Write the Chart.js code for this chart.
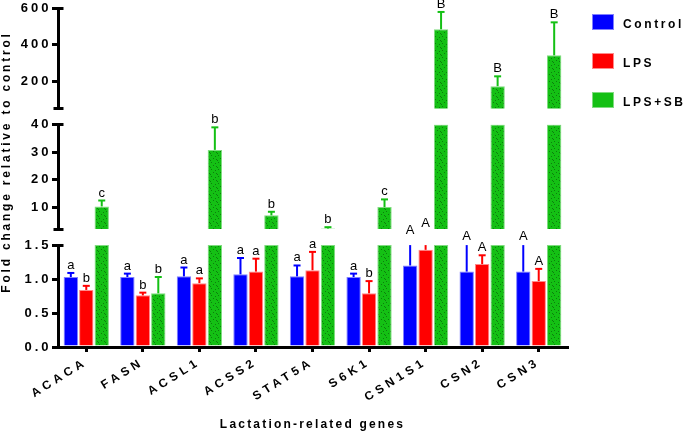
<!DOCTYPE html>
<html><head><meta charset="utf-8">
<script src="https://cdn.jsdelivr.net/npm/chart.js@4.4.1/dist/chart.umd.min.js"></script>
<style>
html,body{margin:0;padding:0;background:#fff;}
#wrap{position:relative;width:685px;height:433px;overflow:hidden;}
#c{position:absolute;left:0;top:0;}
.lg{position:absolute;font:bold 12px "Liberation Sans",Arial,sans-serif;letter-spacing:2.6px;color:#000;line-height:14px;white-space:nowrap;}
.sw{position:absolute;width:22px;height:16px;box-sizing:border-box;border:1px solid;}
</style></head><body>
<div id="wrap">
<canvas id="c" width="685" height="433"></canvas>
</div>
<script>
// ---- data ----
const genes = ['ACACA','FASN','ACSL1','ACSS2','STAT5A','S6K1','CSN1S1','CSN2','CSN3'];
const controlMean = [1.03, 1.03, 1.04, 1.07, 1.04, 1.03, 1.20, 1.11, 1.11];
const controlSem  = [0.06, 0.05, 0.13, 0.24, 0.16, 0.05, 0.40, 0.40, 0.40];
const lpsMean     = [0.84, 0.76, 0.94, 1.11, 1.13, 0.79, 1.43, 1.22, 0.97];
const lpsSem      = [0.06, 0.04, 0.07, 0.19, 0.27, 0.18, 0.28, 0.13, 0.18];
const lpsSbMean   = [10.25, 0.79, 30.8, 7.0, 2.2, 10.0, 485, 173, 342];
const lpsSbSem    = [2.15, 0.24, 8.2, 1.3, 0.5, 2.8, 95, 54, 181];
const controlLetters = ['a','a','a','a','a','a','A','A','A'];
const lpsLetters     = ['b','b','a','a','a','b','A','A','A'];
const lpsSbLetters   = ['c','b','b','b','b','c','B','B','B'];
const topTicks = [200, 400, 600];
const midTicks = [10, 20, 30, 40];
const botTicks = [0, 0.5, 1.0, 1.5];
const groupNames = ['Control', 'LPS', 'LPS+SB'];

const FONT = '"Liberation Sans", Arial, Helvetica, sans-serif';
Chart.defaults.font.family = FONT;
Chart.defaults.color = '#000';

const canvas = document.getElementById('c');
const ctx0 = canvas.getContext('2d');
function greenPattern(){
  const c = document.createElement('canvas'); c.width = 7; c.height = 7;
  const x = c.getContext('2d');
  x.fillStyle = '#14c014'; x.fillRect(0,0,7,7);
  x.fillStyle = 'rgba(10,110,10,0.8)';
  [[1,1],[5,2],[3,4],[0,6],[6,5]].forEach(p => x.fillRect(p[0],p[1],1,1));
  return ctx0.createPattern(c, 'repeat');
}

const groups = [
  {key:'control', label:groupNames[0], mean:controlMean, sem:controlSem, letters:controlLetters, fill:'#0000ff', line:'#0000ff', border:'#8080ff'},
  {key:'lps', label:groupNames[1], mean:lpsMean, sem:lpsSem, letters:lpsLetters, fill:'#ff0000', line:'#ff0000', border:'#ff8a8a'},
  {key:'lpssb', label:groupNames[2], mean:lpsSbMean, sem:lpsSbSem, letters:lpsSbLetters, fill:greenPattern(), line:'#14c014', border:'#80dc80'}
];

const segments = [
  {id:'yTop', min:50, max:600, ticks:topTicks, w:100.4, lower:true, fmt:v=>String(v)},
  {id:'gap1', gap:true, w:16},
  {id:'yMid', min:2, max:40, ticks:midTicks, w:104.6, lower:true, fmt:v=>String(v)},
  {id:'gap2', gap:true, w:16},
  {id:'yBot', min:0, max:1.5, ticks:botTicks, w:102, lower:false, fmt:v=>v.toFixed(1)}
];
const realSegs = segments.filter(s => !s.gap);

const datasets = [];
realSegs.forEach(seg => {
  groups.forEach(g => {
    datasets.push({
      label: g.label,
      stack: g.key,
      yAxisID: seg.id,
      data: g.mean.map(v => (seg.min > 0 && v <= seg.min) ? null : Math.min(v, seg.max)),
      backgroundColor: g.fill,
      borderColor: g.border,
      borderWidth: 1,
      borderSkipped: 'bottom',
      categoryPercentage: 0.82,
      barPercentage: 0.93
    });
  });
});

// give a scale its own letter spacing for tick labels
function spaced(px){
  return s => {
    if (s._spacedPatched) return;
    const orig = s.drawLabels.bind(s);
    s.drawLabels = (area) => {
      const c = s.ctx; const prev = c.letterSpacing;
      c.letterSpacing = px; orig(area); c.letterSpacing = prev;
    };
    s._spacedPatched = true;
  };
}

const scales = {
  x: {
    type:'category',
    offset:true,
    grid:{display:true, drawOnChartArea:false, offset:false, tickLength:5, tickWidth:3, tickColor:'#000', lineWidth:3, color:'#000'},
    border:{display:true, width:3, color:'#000'},
    ticks:{autoSkip:false, minRotation:32, maxRotation:32, padding:3, font:{size:12, weight:'bold'}, color:'#000'},
    title:{display:true, text:'Lactation-related genes', font:{size:12, weight:'bold'}, color:'#000', padding:{top:0, bottom:1}},
    afterFit: s => { s.height = 86; },
    afterUpdate: spaced('4px')
  }
};
let wgt = segments.length;
segments.forEach(seg => {
  if (seg.gap) {
    scales[seg.id] = {type:'linear', display:false, position:'left', stack:'ys', stackWeight:seg.w, weight:wgt--, min:0, max:1};
  } else {
    scales[seg.id] = {
      type:'linear', position:'left', stack:'ys', stackWeight:seg.w, weight:wgt--,
      min:seg.min, max:seg.max, stacked:false,
      afterBuildTicks: s => { s.ticks = seg.ticks.map(v => ({value:v})); },
      afterFit: s => { s.width = 58; },
      afterUpdate: spaced('3px'),
      grid:{display:true, drawOnChartArea:false, tickLength:6, tickWidth:3, tickColor:'#000', lineWidth:3, color:'#000'},
      border:{display:true, width:3, color:'#000'},
      ticks:{padding:0.5, font:{size:13, weight:'bold'}, color:'#000', callback: v => seg.fmt(v)}
    };
  }
});

function align(p, w){ const hw = w/2; return Math.round(p - hw) + hw; }

const spacingPlugin = {
  id:'spacing',
  beforeLayout(chart){ chart.ctx.letterSpacing = '2.2px'; },
  beforeDraw(chart){ chart.ctx.letterSpacing = '2.2px'; }
};

const errPlugin = {
  id:'errbars',
  afterDatasetsDraw(chart){
    const ctx = chart.ctx;
    ctx.save();
    ctx.letterSpacing = '0px';
    const botIndexBase = datasets.length - groups.length;
    groups.forEach((g, gi) => {
      const baseMeta = chart.getDatasetMeta(botIndexBase + gi);
      g.mean.forEach((m, i) => {
        const x = baseMeta.data[i].x;
        const top = m + g.sem[i];
        ctx.strokeStyle = g.line;
        ctx.lineWidth = 2;
        realSegs.forEach(seg => {
          const sc = chart.scales[seg.id];
          if (m < seg.max && top > seg.min) {
            const lo = Math.max(m, seg.min), hi = Math.min(top, seg.max);
            ctx.beginPath();
            ctx.moveTo(x, sc.getPixelForValue(lo));
            ctx.lineTo(x, sc.getPixelForValue(hi));
            ctx.stroke();
          }
          if (top >= seg.min && top <= seg.max) {
            const y = sc.getPixelForValue(top);
            ctx.beginPath();
            ctx.moveTo(x - 3.5, y); ctx.lineTo(x + 3.5, y);
            ctx.stroke();
          }
        });
        const seg = realSegs.find(s => top >= s.min);
        const sc = chart.scales[seg.id];
        ctx.fillStyle = '#000';
        ctx.font = '13px ' + FONT;
        ctx.textAlign = 'center';
        ctx.textBaseline = 'alphabetic';
        ctx.fillText(g.letters[i], x, sc.getPixelForValue(top) - 4);
      });
    });
    ctx.restore();
  },
  afterDraw(chart){
    const ctx = chart.ctx;
    ctx.save();
    const ax = align(chart.chartArea.left, 3);
    ctx.strokeStyle = '#000';
    ctx.lineWidth = 3;
    realSegs.forEach(seg => {
      const sc = chart.scales[seg.id];
      const yt = align(sc.getPixelForValue(seg.max), 3);
      ctx.beginPath(); ctx.moveTo(ax - 6, yt); ctx.lineTo(ax + 5, yt); ctx.stroke();
      if (seg.lower) {
        const yb = align(sc.getPixelForValue(seg.min), 3);
        ctx.beginPath(); ctx.moveTo(ax - 5, yb); ctx.lineTo(ax + 5, yb); ctx.stroke();
      }
    });
    ctx.translate(7, 162);
    ctx.rotate(-Math.PI/2);
    ctx.font = 'bold 12px ' + FONT;
    ctx.letterSpacing = '2.8px';
    ctx.fillStyle = '#000';
    ctx.textAlign = 'center';
    ctx.textBaseline = 'middle';
    ctx.fillText('Fold change relative to control', 0, 0);
    ctx.restore();
  }
};

new Chart(canvas, {
  type:'bar',
  data:{labels:genes, datasets},
  options:{
    responsive:false,
    animation:false,
    layout:{padding:{top:8, right:118, bottom:0, left:0}},
    plugins:{legend:{display:false}, tooltip:{enabled:false}},
    scales
  },
  plugins:[spacingPlugin, errPlugin]
});

// legend (HTML)
const wrap = document.getElementById('wrap');
const legTops = [14, 53, 92];
groups.forEach((g, i) => {
  const sw = document.createElement('div');
  sw.className = 'sw';
  sw.style.left = '592px'; sw.style.top = legTops[i] + 'px';
  sw.style.background = g.line; sw.style.borderColor = g.border;
  wrap.appendChild(sw);
  const t = document.createElement('div');
  t.className = 'lg';
  t.style.left = '623px'; t.style.top = (legTops[i] + 3) + 'px';
  t.textContent = g.label;
  wrap.appendChild(t);
});
</script>
</body></html>
